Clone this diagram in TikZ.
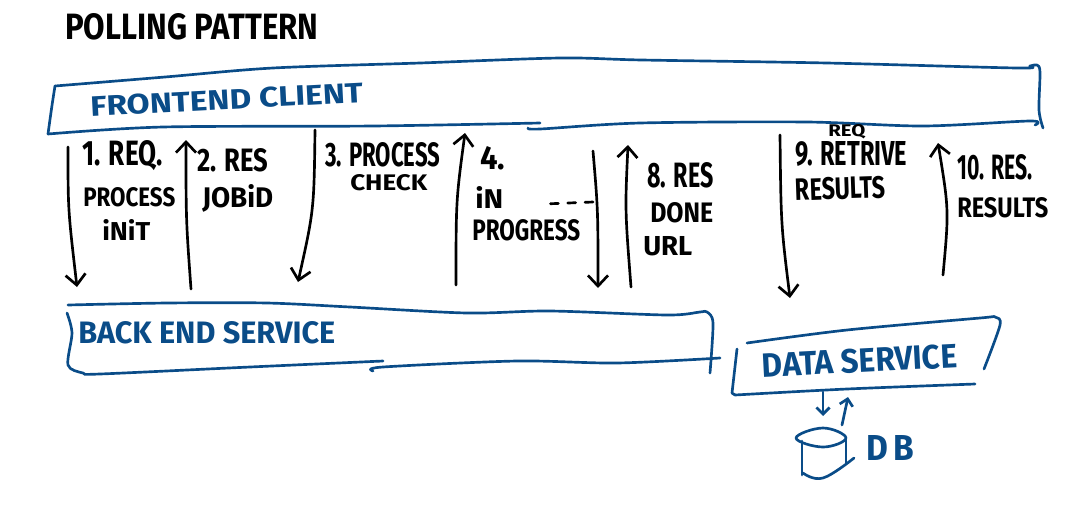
\documentclass[tikz,border=0pt]{standalone}
\usepackage{fontspec}
\setmainfont{Fira Sans}
\usetikzlibrary{arrows.meta}
\definecolor{penblue}{HTML}{0A4C88}
\newlength{\inkpx}
\setlength{\inkpx}{0.75pt}
\newcommand{\fit}[3]{\resizebox{#1\inkpx}{#2\inkpx}{#3}}
\tikzset{
  ink/.style={draw=black,line width=2pt,line cap=round,line join=round},
  blueink/.style={ink,draw=penblue},
  hand/.style={inner sep=0pt,anchor=west,font=\bfseries},
  bluehand/.style={hand,text=penblue},
  smallhead/.style={>={Straight Barb[length=5pt,width=10pt]}},
}
\begin{document}
\begin{tikzpicture}[x=0.75pt,y=-0.75pt,>={Straight Barb[length=8pt,width=15pt]}]
  \useasboundingbox (0,0) rectangle (1067,508);
  % title
  \node[hand] (title) at (65,27) {\fit{253}{26}{POLLING PATTERN}};
  % service boxes
  \draw[blueink] (55,86) .. controls (52,105) .. (48,134);
  \draw[blueink] plot[smooth,tension=0.5] coordinates {(55,86) (165,77) (273,68) (420,63) (560,58) (642,60) (827,63) (1017,68) (1030,66) (1037,65) (1040,72) (1039,110) (1043,128)};
  \draw[blueink] plot[smooth,tension=0.5] coordinates {(48,134) (163,127) (373,126) (540,123)};
  \draw[blueink] plot[smooth,tension=0.5] coordinates {(528,128) (540,129) (640,123) (807,122) (923,126) (1030,121) (1035,125)};
  \node[bluehand,rotate=3] (frontend) at (90,107) {\fit{273}{20}{FRONTEND CLIENT}};
  \draw[blueink] plot[smooth,tension=0.5] coordinates {(68,305) (167,303) (267,303) (350,307) (467,313) (550,311) (667,315) (700,312) (707,312) (713,323) (710,373)};
  \draw[blueink] plot[smooth,tension=0.5] coordinates {(67,313) (72,333) (68,365) (83,373) (100,374) (250,367) (383,361)};
  \draw[blueink] plot[smooth,tension=0.5] coordinates {(373,371) (383,367) (517,361) (617,363) (720,358)};
  \node[bluehand] (backend) at (78,333) {\fit{257}{22}{BACK END SERVICE}};
  \draw[blueink] plot[smooth,tension=0.5] coordinates {(747,343) (847,330) (980,318) (995,317) (1000,325) (984,369)};
  \draw[blueink] (737,349) -- (732,393) -- (735,395);
  \draw[blueink] plot[smooth,tension=0.5] coordinates {(735,395) (847,389) (975,384)};
  \node[bluehand,rotate=3] (data) at (762,366) {\fit{195}{24}{DATA SERVICE}};
  % db
  \draw[blueink] plot[smooth cycle,tension=0.7] coordinates {(796,438) (823,428) (846,438) (823,447)};
  \draw[blueink] (802,441) -- (802,475);
  \draw[blueink] (846,438) -- (846,463);
  \draw[blueink] plot[smooth,tension=0.7] coordinates {(803,473) (823,478) (854,458)};
  \node[bluehand] (db) at (866,448) {\fit{48}{25}{D\,B}};
  % arrows between the boxes
  \coordinate (reqS) at (68,147);    \coordinate (reqE) at (77,287);
  \coordinate (jobS) at (191,289);   \coordinate (jobE) at (186,140);
  \coordinate (chkS) at (315,130);   \coordinate (chkE) at (298,282);
  \coordinate (prgS) at (456,285);   \coordinate (prgE) at (465,133);
  \coordinate (lstS) at (593,151);   \coordinate (lstE) at (598,288);
  \coordinate (urlS) at (631,287);   \coordinate (urlE) at (628,145);
  \coordinate (getS) at (780,135);   \coordinate (getE) at (790,298);
  \coordinate (resS) at (943,275);   \coordinate (resE) at (938,143);
  \coordinate (dbdS) at (823,392);   \coordinate (dbdE) at (823,416);
  \coordinate (dbuS) at (842,425);   \coordinate (dbuE) at (848,397);
  \coordinate (dotS) at (544,204);   \coordinate (dotE) at (593,202);
  \draw[ink,->] (reqS) .. controls (68,210) .. (reqE);
  \draw[ink,->] (jobS) .. controls (186,220) .. (jobE);
  \draw[ink,->] (chkS) .. controls (314,210) .. (chkE);
  \draw[ink,->] (prgS) .. controls (456,200) .. (prgE);
  \draw[ink,->] (lstS) .. controls (598,210) .. (lstE);
  \draw[ink,->] (urlS) .. controls (625,210) .. (urlE);
  \draw[ink,->] (getS) .. controls (781,225) .. (getE);
  \draw[ink,->] (resS) .. controls (949,210) .. (resE);
  \draw[blueink,smallhead,->] (dbdS) -- (dbdE);
  \draw[blueink,smallhead,->] (dbuS) -- (dbuE);
  \draw[ink,dash pattern=on 6pt off 7pt] (dotE) -- (dotS);
  % step labels
  \node[hand] (reqa) at (82,156) {\fit{80}{25}{1. REQ.}};
  \node[hand] (reqb) at (83,197) {\fit{92}{19}{PROCESS}};
  \node[hand] (reqc) at (102,230) {\fit{48}{21}{iNiT}};
  \node[hand] (joba) at (197,160) {\fit{71}{23}{2. RES}};
  \node[hand] (jobb) at (202,198) {\fit{71}{23}{JOBiD}};
  \node[hand] (chka) at (325,155) {\fit{115}{24}{3. PROCESS}};
  \node[hand] (chkb) at (350,183) {\fit{77}{16}{CHECK}};
  \node[hand] (prga) at (480,158) {\fit{25}{23}{4.}};
  \node[hand] (prgb) at (475,197) {\fit{28}{22}{iN}};
  \node[hand] (prgc) at (472,230) {\fit{108}{21}{PROGRESS}};
  \node[hand] (urla) at (647,175) {\fit{66}{25}{8. RES}};
  \node[hand] (urlb) at (650,213) {\fit{63}{20}{DONE}};
  \node[hand] (urlc) at (643,246) {\fit{49}{19}{URL}};
  \node[hand] (geta) at (795,154) {\fit{112}{24}{9. RETRIVE}};
  \node[hand] (getb) at (828,132) {\fit{37}{12}{REQ}};
  \node[hand,rotate=2] (getc) at (795,190) {\fit{90}{22}{RESULTS}};
  \node[hand] (resa) at (957,167) {\fit{75}{25}{10. RES.}};
  \node[hand] (resb) at (957,208) {\fit{91}{20}{RESULTS}};
\end{tikzpicture}
\end{document}
